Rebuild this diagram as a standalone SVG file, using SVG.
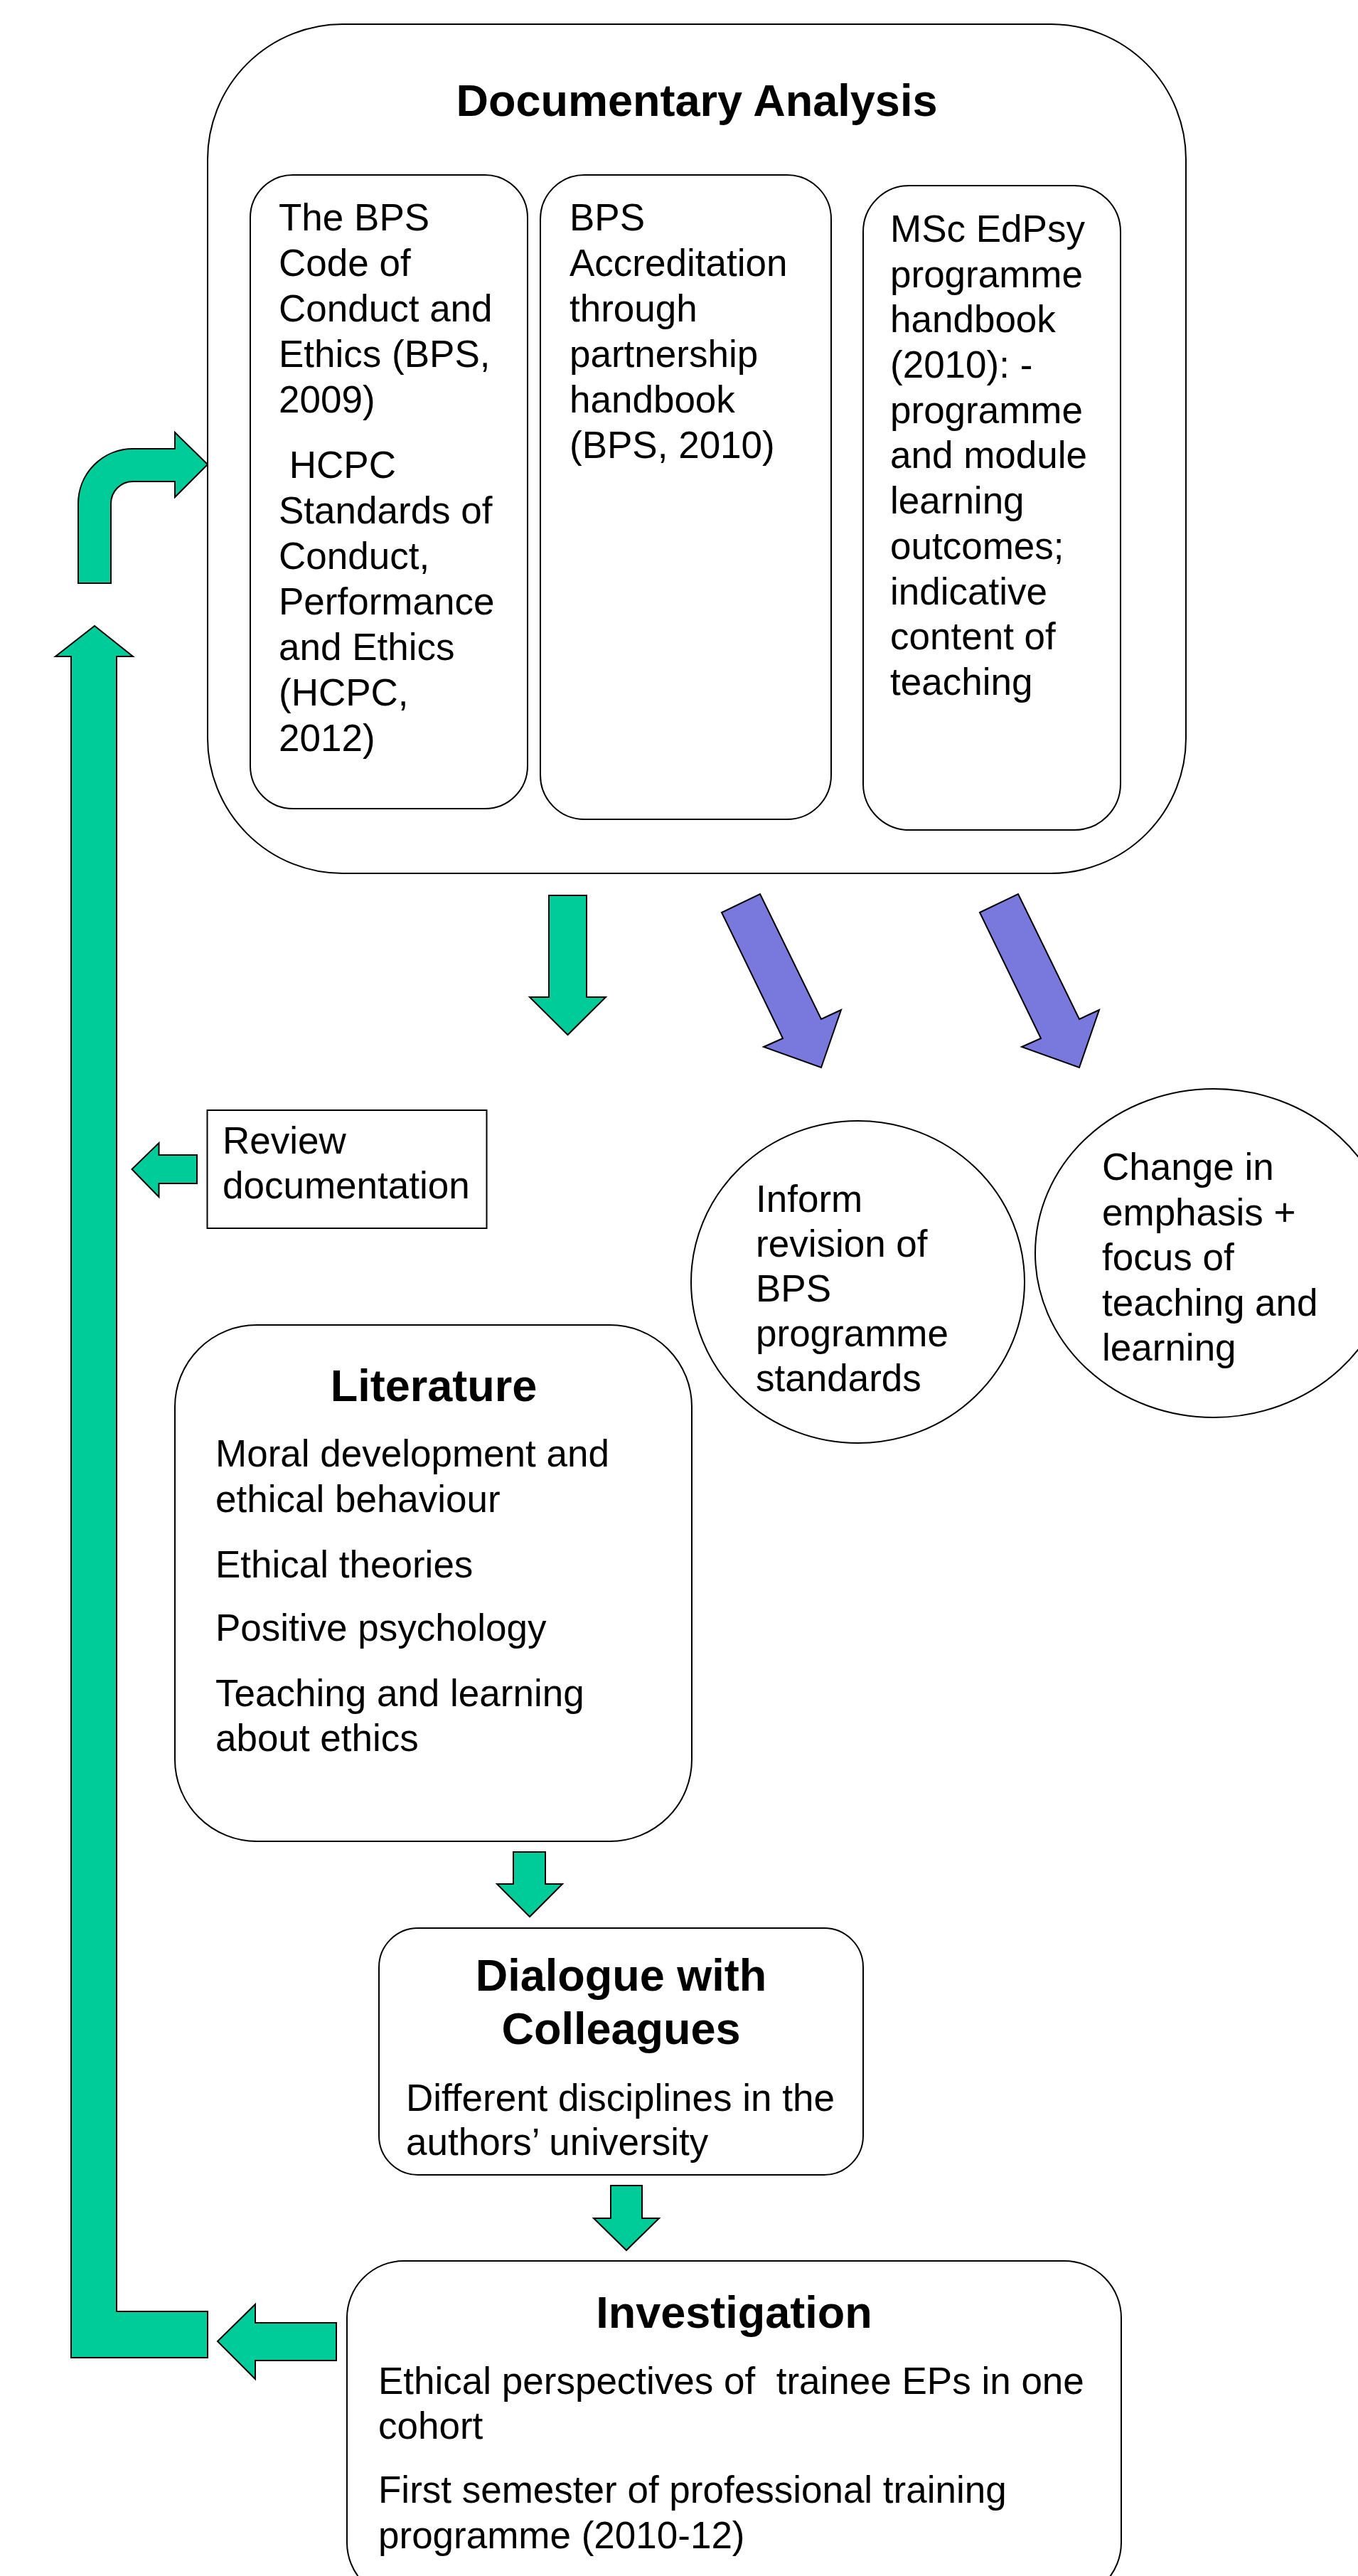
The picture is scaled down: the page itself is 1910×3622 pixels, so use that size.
<svg xmlns="http://www.w3.org/2000/svg" width="1910" height="3622" viewBox="0 0 1910 3622">
<style>
.box{fill:#fff;stroke:#000;stroke-width:2}
.g{fill:#00CC99;stroke:#000;stroke-width:2;stroke-linejoin:miter}
.b{fill:#7878DD;stroke:#000;stroke-width:2;stroke-linejoin:miter}
text{font-family:"Liberation Sans",Arial,sans-serif;fill:#000}
.t{font-size:53px}
.h{font-size:63px;font-weight:bold;text-anchor:middle}
</style>
<rect width="1910" height="3622" fill="#fff"/>
<g id="connectors">
<path class="g" d="M110,820 L110,708 A77,77 0 0 1 187,631 L246,631 L246,608 L292,653 L246,699 L246,677 L187,677 A31,31 0 0 0 156,708 L156,820 Z"/>
<path class="g" d="M133,880 L187,923 L164,923 L164,3250 L292,3250 L292,3315 L100,3315 L100,923 L78,923 Z"/>
<path class="g" d="M772,1259 L825,1259 L825,1402 L852,1402 L798.5,1455 L745,1402 L772,1402 Z"/>
<path class="b" d="M1015,1283 L1069,1257 L1155,1433 L1183,1420 L1155,1501 L1074,1472 L1101,1460 Z"/>
<path class="b" d="M1378,1283 L1432,1257 L1518,1433 L1546,1420 L1518,1501 L1437,1472 L1464,1460 Z"/>
<path class="g" d="M277,1624 L277,1664 L223.5,1664 L223.5,1683 L185.5,1644 L223.5,1607 L223.5,1624 Z"/>
<path class="g" d="M722,2604 L767,2604 L767,2649 L791,2649 L745,2695 L699,2649 L722,2649 Z"/>
<path class="g" d="M859,3073 L903,3073 L903,3119 L927,3119 L881,3164 L835,3119 L859,3119 Z"/>
<path class="g" d="M473,3266 L473,3319 L359,3319 L359,3345 L306,3292 L359,3240 L359,3266 Z"/>
</g>
<g id="documentary-analysis">
<rect class="box" x="292" y="34" width="1376" height="1194" rx="190" ry="190"/>
<text class="h" x="980" y="163">Documentary Analysis</text>
</g>
<g id="bps-code">
<rect class="box" x="352" y="246" width="390" height="891" rx="60" ry="60"/>
<text class="t" x="392" y="324">The BPS</text>
<text class="t" x="392" y="388">Code of</text>
<text class="t" x="392" y="452">Conduct and</text>
<text class="t" x="392" y="516">Ethics (BPS,</text>
<text class="t" x="392" y="580">2009)</text>
<text class="t" x="392" y="672" xml:space="preserve"> HCPC</text>
<text class="t" x="392" y="736">Standards of</text>
<text class="t" x="392" y="800">Conduct,</text>
<text class="t" x="392" y="864">Performance</text>
<text class="t" x="392" y="928">and Ethics</text>
<text class="t" x="392" y="992">(HCPC,</text>
<text class="t" x="392" y="1056">2012)</text>
</g>
<g id="bps-accreditation">
<rect class="box" x="760" y="246" width="409" height="906" rx="62" ry="62"/>
<text class="t" x="801" y="324">BPS</text>
<text class="t" x="801" y="388">Accreditation</text>
<text class="t" x="801" y="452">through</text>
<text class="t" x="801" y="516">partnership</text>
<text class="t" x="801" y="580">handbook</text>
<text class="t" x="801" y="644">(BPS, 2010)</text>
</g>
<g id="msc-handbook">
<rect class="box" x="1214" y="261" width="362" height="906" rx="65" ry="65"/>
<text class="t" x="1252" y="340">MSc EdPsy</text>
<text class="t" x="1252" y="404">programme</text>
<text class="t" x="1252" y="467">handbook</text>
<text class="t" x="1252" y="531">(2010): -</text>
<text class="t" x="1252" y="595">programme</text>
<text class="t" x="1252" y="658">and module</text>
<text class="t" x="1252" y="722">learning</text>
<text class="t" x="1252" y="786">outcomes;</text>
<text class="t" x="1252" y="850">indicative</text>
<text class="t" x="1252" y="913">content of</text>
<text class="t" x="1252" y="977">teaching</text>
</g>
<g id="review-documentation">
<rect class="box" x="291.5" y="1561" width="393" height="166"/>
<text class="t" x="313" y="1622">Review</text>
<text class="t" x="313" y="1685">documentation</text>
</g>
<g id="inform-revision">
<ellipse class="box" cx="1206.5" cy="1802.5" rx="234.5" ry="226.5"/>
<text class="t" x="1063" y="1704">Inform</text>
<text class="t" x="1063" y="1767">revision of</text>
<text class="t" x="1063" y="1830">BPS</text>
<text class="t" x="1063" y="1893">programme</text>
<text class="t" x="1063" y="1956">standards</text>
</g>
<g id="change-emphasis">
<ellipse class="box" cx="1707" cy="1762" rx="251" ry="231"/>
<text class="t" x="1550" y="1659">Change in</text>
<text class="t" x="1550" y="1722.5">emphasis +</text>
<text class="t" x="1550" y="1786">focus of</text>
<text class="t" x="1550" y="1849.5">teaching and</text>
<text class="t" x="1550" y="1913">learning</text>
</g>
<g id="literature">
<rect class="box" x="246" y="1863" width="727" height="726" rx="115" ry="115"/>
<text class="h" x="610" y="1970">Literature</text>
<text class="t" x="303" y="2062">Moral development and</text>
<text class="t" x="303" y="2126">ethical behaviour</text>
<text class="t" x="303" y="2218">Ethical theories</text>
<text class="t" x="303" y="2307">Positive psychology</text>
<text class="t" x="303" y="2399">Teaching and learning</text>
<text class="t" x="303" y="2462">about ethics</text>
</g>
<g id="dialogue">
<rect class="box" x="533" y="2711" width="681" height="347" rx="55" ry="55"/>
<text class="h" x="873.5" y="2799">Dialogue with</text>
<text class="h" x="873.5" y="2874">Colleagues</text>
<text class="t" x="571" y="2968">Different disciplines in the</text>
<text class="t" x="571" y="3030">authors’ university</text>
</g>
<g id="investigation">
<rect class="box" x="488" y="3179" width="1089" height="476" rx="80" ry="80"/>
<text class="h" x="1032.5" y="3273">Investigation</text>
<text class="t" x="532" y="3366" xml:space="preserve">Ethical perspectives of  trainee EPs in one</text>
<text class="t" x="532" y="3429">cohort</text>
<text class="t" x="532" y="3519">First semester of professional training</text>
<text class="t" x="532" y="3583">programme (2010-12)</text>
</g>
</svg>
